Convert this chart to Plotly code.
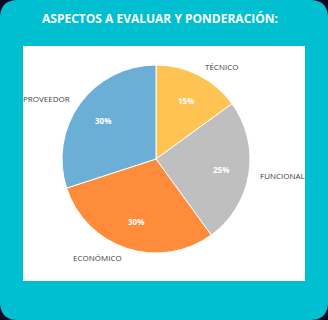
import math
import plotly.graph_objects as go

labels = ["TÉCNICO", "FUNCIONAL", "ECONÓMICO", "PROVEEDOR"]
values = [15, 25, 30, 30]
colors = ["#FFC353", "#BFBFBF", "#FF8C3A", "#6BAED6"]
title = "ASPECTOS A EVALUAR Y PONDERACIÓN:"

W, H = 328, 320
# pie geometry (pixels)
cx, cy, r = 156, 159, 94

fig = go.Figure()
fig.add_trace(go.Pie(
    labels=labels, values=values, sort=False, direction="clockwise", rotation=0,
    marker=dict(colors=colors, line=dict(color="white", width=1)),
    textinfo="none", hoverinfo="label+percent", showlegend=False,
    domain=dict(x=[(cx - r) / W, (cx + r) / W], y=[1 - (cy + r) / H, 1 - (cy - r) / H]),
))

total = sum(values)
cum = 0
annotations = []
for lab, v in zip(labels, values):
    mid = (cum + v / 2) / total * 2 * math.pi
    cum += v
    sx, sy = math.sin(mid), -math.cos(mid)
    # percent inside
    px, py = cx + 0.7 * r * sx, cy + 0.7 * r * sy
    annotations.append(dict(
        x=px / W, y=1 - py / H, xref="paper", yref="paper", showarrow=False,
        text=f"<b>{round(v / total * 100)}%</b>",
        font=dict(family="Open Sans", size=8, color="white"),
        xanchor="center", yanchor="middle"))
    # category label outside
    lx, ly = cx + 1.1 * r * sx, cy + 1.1 * r * sy
    annotations.append(dict(
        x=lx / W, y=1 - ly / H, xref="paper", yref="paper", showarrow=False,
        text=lab, font=dict(family="Open Sans", size=8, color="#404040"),
        xanchor="left" if sx > 0.05 else ("right" if sx < -0.05 else "center"),
        yanchor="middle"))

annotations.append(dict(
    x=160 / W, y=1 - 18 / H, xref="paper", yref="paper", showarrow=False,
    text=f"<b>{title}</b>", font=dict(family="Open Sans", size=12, color="white"),
    xanchor="center", yanchor="middle"))

rad = 18
path = (f"M {rad},0 L {W - rad},0 Q {W},0 {W},{rad} L {W},{H - rad} Q {W},{H} {W - rad},{H} "
        f"L {rad},{H} Q 0,{H} 0,{H - rad} L 0,{rad} Q 0,0 {rad},0 Z")
# convert pixel path to paper coords
def pp(s):
    out = []
    toks = s.split()
    for t in toks:
        if "," in t:
            a, b = t.split(",")
            out.append(f"{float(a) / W:.5f},{1 - float(b) / H:.5f}")
        else:
            out.append(t)
    return " ".join(out)

shapes = [
    dict(type="path", path=pp(path), xref="paper", yref="paper",
         fillcolor="#00BFD0", line=dict(width=0), layer="below"),
    dict(type="rect", x0=23 / W, x1=305 / W, y0=1 - 281 / H, y1=1 - 46 / H,
         xref="paper", yref="paper", fillcolor="white", line=dict(width=0), layer="below"),
]

fig.update_layout(
    width=W, height=H, margin=dict(l=0, r=0, t=0, b=0),
    paper_bgcolor="#0B0A26", plot_bgcolor="rgba(0,0,0,0)",
    shapes=shapes, annotations=annotations,
)
fig.write_html("out.html")
